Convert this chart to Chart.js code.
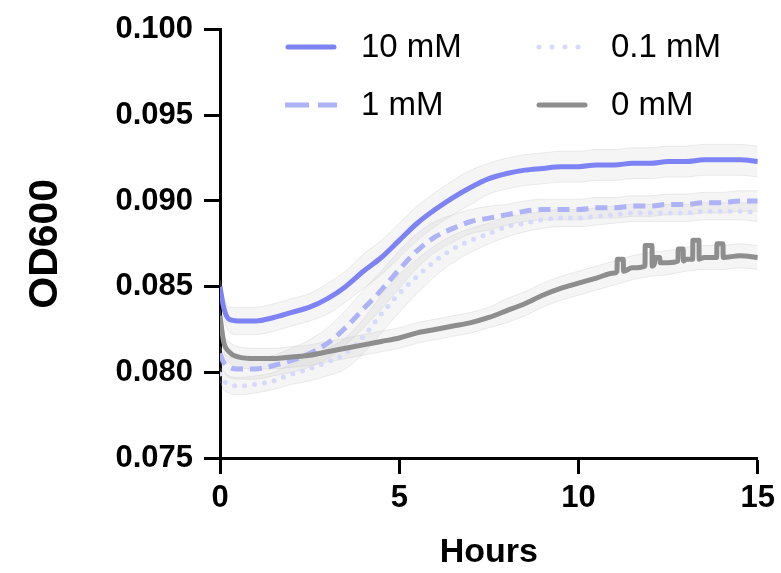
<!DOCTYPE html>
<html><head><meta charset="utf-8">
<script src="https://cdn.jsdelivr.net/npm/chart.js@4/dist/chart.umd.min.js"></script>
<style>html,body{margin:0;padding:0;background:#fff}</style>
</head><body>
<canvas id="c" width="781" height="573"></canvas>
<script>
// ---- data ----
const hours = [0,0.1,0.25,0.5,1,1.5,2,2.5,3,3.5,4,4.5,5,5.5,6,6.5,7,7.5,8,8.5,9,9.5,10,10.5,11,11.5,12,12.5,13,13.5,14,14.5,15];

const od10mM = [0.0850,0.0838,0.0831,0.0830,0.0830,0.0832,0.0835,0.0838,0.0843,0.0850,0.0859,0.0867,0.0877,0.0887,0.0895,0.0902,0.0908,0.0913,0.0916,0.0918,0.0919,0.0920,0.0920,0.0921,0.0921,0.0922,0.0922,0.0923,0.0923,0.0924,0.0924,0.0924,0.0923];
const od1mM  = [0.0811,0.0806,0.0803,0.0802,0.0802,0.0804,0.0807,0.0811,0.0817,0.0826,0.0837,0.0848,0.0860,0.0871,0.0879,0.0884,0.0888,0.0890,0.0892,0.0894,0.0895,0.0895,0.0895,0.0896,0.0896,0.0897,0.0897,0.0898,0.0898,0.0899,0.0899,0.0900,0.0900];
const od01mM = [0.0799,0.0795,0.0793,0.0792,0.0793,0.0795,0.0799,0.0802,0.0806,0.0811,0.0821,0.0834,0.0846,0.0856,0.0865,0.0872,0.0877,0.0881,0.0885,0.0887,0.0889,0.0890,0.0890,0.0891,0.0892,0.0893,0.0893,0.0893,0.0893,0.0894,0.0894,0.0894,0.0893];
const od0mM  = [0.0833,0.0818,0.0812,0.0809,0.0808,0.0808,0.0809,0.0810,0.0812,0.0814,0.0816,0.0818,0.0820,0.0823,0.0825,0.0827,0.0829,0.0832,0.0836,0.0840,0.0845,0.0849,0.0852,0.0855,0.0858,0.0861,0.0863,0.0864,0.0866,0.0867,0.0867,0.0868,0.0867];

// short upward blips of the 0 mM trace
const spikeStart = [11.08,11.86,12.13,12.78,13.19,13.86];
const spikeEnd   = [11.25,12.05,12.27,12.92,13.36,14.03];
const spikeTop   = [0.0866,0.0874,0.0867,0.0872,0.0877,0.0875];
const spikeBase  = [0.0859,0.0862,0.0864,0.0865,0.0866,0.0867];

// spread (error band half-width)
const err10mM = [0.0004,0.0006,0.0007,0.0008,0.0008,0.0008,0.0008,0.0008,0.0009,0.0009,0.0010,0.0010,0.0010,0.0010,0.0010,0.0010,0.0010,0.0009,0.0009,0.0009,0.0009,0.0009,0.0009,0.0009,0.0009,0.0009,0.0009,0.0009,0.0009,0.0009,0.0009,0.0009,0.0009];
const err1mM  = [0.0004,0.0005,0.0006,0.0006,0.0006,0.0006,0.0007,0.0008,0.0009,0.0010,0.0011,0.0011,0.0011,0.0010,0.0009,0.0008,0.0007,0.0007,0.0006,0.0006,0.0006,0.0006,0.0006,0.0006,0.0006,0.0006,0.0006,0.0006,0.0006,0.0006,0.0006,0.0006,0.0006];
const err01mM = [0.0004,0.0005,0.0005,0.0005,0.0005,0.0005,0.0006,0.0007,0.0008,0.0009,0.0010,0.0011,0.0011,0.0010,0.0009,0.0008,0.0007,0.0006,0.0006,0.0005,0.0005,0.0005,0.0005,0.0005,0.0005,0.0005,0.0005,0.0005,0.0005,0.0005,0.0005,0.0005,0.0005];
const err0mM  = [0.0004,0.0005,0.0006,0.0006,0.0006,0.0006,0.0006,0.0006,0.0006,0.0006,0.0006,0.0006,0.0006,0.0006,0.0006,0.0006,0.0006,0.0006,0.0007,0.0007,0.0007,0.0007,0.0007,0.0007,0.0007,0.0007,0.0007,0.0007,0.0007,0.0007,0.0007,0.0007,0.0007];

const seriesLabels = ['10 mM','1 mM','0.1 mM','0 mM'];
const xTicks = [0,5,10,15];
const yTicks = [0.075,0.080,0.085,0.090,0.095,0.100];

// ---- build ----
const pts = (ys) => hours.map((h,i)=>({x:h,y:ys[i]}));
const band = (ys,es,sign) => hours.map((h,i)=>({x:h,y:ys[i]+sign*es[i]}));

function grayPoints(){
  const out = [];
  hours.forEach((h,i)=>{
    const inside = spikeStart.some((s,k)=>h>=s-0.01 && h<=spikeEnd[k]+0.01);
    if(!inside) out.push({x:h,y:od0mM[i]});
  });
  spikeStart.forEach((s,k)=>{
    out.push({x:s-0.005,y:spikeBase[k]});
    out.push({x:s,y:spikeTop[k]});
    out.push({x:spikeEnd[k],y:spikeTop[k]});
    out.push({x:spikeEnd[k]+0.005,y:spikeBase[k]});
  });
  return out.sort((a,b)=>a.x-b.x);
}

const FONT = '"Liberation Sans", Arial, Helvetica, sans-serif';
const bandFill = 'rgba(185,185,185,0.15)';
const bandEdge = 'rgba(195,195,195,0.3)';
function bandSets(ys,es){
  return [
    {data:band(ys,es,1), fill:'+1', backgroundColor:bandFill, borderColor:bandEdge, borderWidth:1, pointRadius:0, order:10, isBand:true},
    {data:band(ys,es,-1), fill:false, borderColor:bandEdge, borderWidth:1, pointRadius:0, order:10, isBand:true}
  ];
}

const datasets = [
  ...bandSets(od10mM,err10mM),
  ...bandSets(od1mM,err1mM),
  ...bandSets(od01mM,err01mM),
  ...bandSets(od0mM,err0mM),
  {label:seriesLabels[0], data:pts(od10mM), borderColor:'#7d83f4', borderWidth:5, pointRadius:0, fill:false, order:0},
  {label:seriesLabels[1], data:pts(od1mM), borderColor:'#aeb2f7', borderWidth:5, borderDash:[12,7], pointRadius:0, fill:false, order:2, legendDash:[24,9]},
  {label:seriesLabels[2], data:pts(od01mM), borderColor:'#d8dafb', borderWidth:5, borderDash:[0,10], borderCapStyle:'round', pointRadius:0, fill:false, order:3, legendDash:[0,13]},
  {label:seriesLabels[3], data:grayPoints(), borderColor:'#8e8e8e', borderWidth:5, pointRadius:0, fill:false, order:1}
];

const legendPlugin = {
  id:'customLegend',
  afterDraw(chart){
    const ctx = chart.ctx;
    const slots = {'10 mM':[288,47,46],'1 mM':[285,105,52],'0.1 mM':[539,47,40],'0 mM':[539,105,46]};
    const textX = {'10 mM':361,'1 mM':361,'0.1 mM':611,'0 mM':611};
    chart.data.datasets.forEach(ds=>{
      if(ds.isBand || !slots[ds.label]) return;
      const [x,y,len] = slots[ds.label];
      ctx.save();
      ctx.strokeStyle = ds.borderColor;
      ctx.lineWidth = 5;
      ctx.lineCap = ds.legendDash ? (ds.label==='0.1 mM'?'round':'butt') : 'round';
      ctx.setLineDash(ds.legendDash || []);
      ctx.beginPath(); ctx.moveTo(x,y); ctx.lineTo(x+len,y); ctx.stroke();
      ctx.setLineDash([]);
      ctx.fillStyle = '#000';
      ctx.font = '33px ' + FONT;
      ctx.textBaseline = 'middle';
      ctx.textAlign = 'left';
      ctx.fillText(ds.label, textX[ds.label], y+1);
      ctx.restore();
    });
  }
};

new Chart(document.getElementById('c'), {
  type:'line',
  data:{datasets},
  options:{
    responsive:false,
    animation:false,
    events:[],
    layout:{padding:{top:28,right:22,left:0,bottom:0}},
    elements:{line:{cubicInterpolationMode:'monotone'}},
    plugins:{legend:{display:false}, tooltip:{enabled:false}},
    scales:{
      x:{
        type:'linear', min:0, max:15,
        afterBuildTicks:(s)=>{ s.ticks = xTicks.map(v=>({value:v})); },
        afterFit:(s)=>{ s.height = 115; },
        grid:{drawOnChartArea:false, drawTicks:true, tickLength:16, tickWidth:3, tickColor:'#000'},
        border:{display:true, color:'#000', width:3},
        ticks:{color:'#000', padding:6, font:{family:FONT, size:31, weight:'bold'}, maxRotation:0},
        title:{display:true, text:'Hours', color:'#000', font:{family:FONT, size:34, weight:'bold'}, padding:{top:0,bottom:0}}
      },
      y:{
        type:'linear', min:0.075, max:0.100,
        afterBuildTicks:(s)=>{ s.ticks = yTicks.map(v=>({value:v})); },
        afterFit:(s)=>{ s.width = 220; },
        grid:{drawOnChartArea:false, drawTicks:true, tickLength:16, tickWidth:3, tickColor:'#000'},
        border:{display:true, color:'#000', width:3},
        ticks:{color:'#000', padding:11, font:{family:FONT, size:31, weight:'bold'}, callback:(v)=>Number(v).toFixed(3)},
        title:{display:true, text:'OD600', color:'#000', font:{family:FONT, size:41, weight:'bold'}, padding:{top:21,bottom:0}}
      }
    }
  },
  plugins:[legendPlugin]
});
</script>
</body></html>
